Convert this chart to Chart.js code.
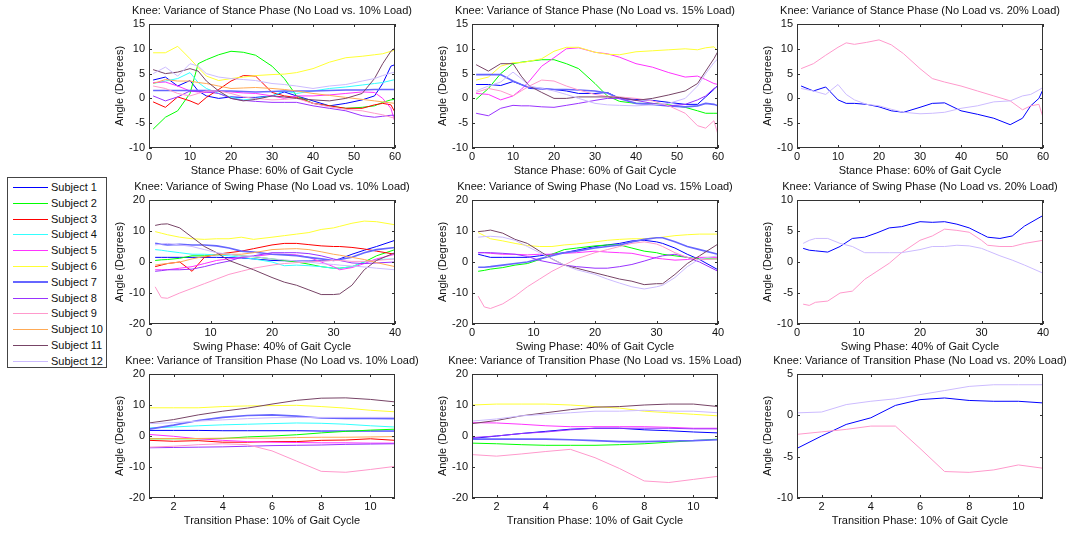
<!DOCTYPE html>
<html lang="en">
<head>
<meta charset="UTF-8">
<title>Knee: Variance of Gait Phases</title>
<script src="https://cdn.jsdelivr.net/npm/chart.js"></script>
<style>
    body { margin: 0; background: #fff; width: 1066px; height: 535px; position: relative; overflow: hidden;
           font-family: "Liberation Sans", Arial, sans-serif; }
    canvas { position: absolute; }
    #legend { position: absolute; left: 7px; top: 177px; width: 100px; height: 191px; border: 1px solid #444;
              background: #fff; box-sizing: border-box; }
    .sw { position: absolute; left: 5px; width: 35px; height: 1px; }
    .lab { position: absolute; left: 43px; font-size: 11px; line-height: 13px; color: #111; white-space: nowrap; }
</style>
</head>
<body>
<div id="legend"></div>
<script>
// subjects and colours
const subjects = ['Subject 1','Subject 2','Subject 3','Subject 4','Subject 5','Subject 6',
                  'Subject 7','Subject 8','Subject 9','Subject 10','Subject 11','Subject 12'];
const colors = ['#0000ff','#00ff00','#ff0000','#33ffff','#ff33ff','#ffff33',
                '#6666ff','#9933ff','#ff99cc','#ffaa55','#774466','#ccbbff'];
const widths = [1,1,1,1,1,1,1.6,1,1,1,1,1];

// x positions (% of gait phase)
const stanceX = [1,4,7,10,12,14,17,20,23,26,30,33,36,40,44,48,52,55,57,59,60];
const swingX  = [1,2,3,5,7,9,11,13,15,17,20,22,24,26,28,30,31,33,35,37,40];
const transX  = [1,2,3,4,5,6,7,8,9,10,11];

// stance phase, one row per subject (null = not plotted)
const stance10 = [
    [3.7,4.3,2.5,3.6,1.5,0.5,0,0.3,0.2,0.2,0.5,1.3,0.5,-0.5,-1.5,-1,-0.3,0.5,3,6.5,6.8],
    [-6.2,-3.8,-2.5,1,7,7.8,8.8,9.5,9.3,8.7,6.5,4,0.5,-1,-1.5,-2,-1.8,-1.5,-0.8,-0.3,-0.2],
    [-0.7,-1.8,0.3,-0.5,-1.2,0.2,1.8,3.5,4.6,4.5,1.2,0.5,0.2,-1,-1.5,-2,-2,-1.3,-1,-1.3,-2.8],
    [3,3.5,4,5.2,3.2,2,1,0.2,-0.3,0,0.5,1.5,1,1.5,2,2.3,2.7,3,3.2,3.6,3.8],
    [3.2,3.3,2.5,1.5,1.3,1.2,1.5,1.3,1.1,1,0.5,0,0.5,0.5,0.7,1,1.3,1.2,0,-2,-4.8],
    [9.2,9.2,10.5,8,6.2,4.5,3.6,4,4.3,4.6,4.8,4.9,5.2,6,7.3,8.2,8.5,8.8,9,9.5,9.7],
    [1.6,1.6,1.6,1.6,1.6,1.6,1.5,1.5,1.4,1.3,1.4,1.5,1.5,1.5,1.6,1.7,1.7,1.8,1.8,1.8,1.8],
    [0.5,-0.5,0.3,1.5,1.4,1.3,1,0,-0.4,-0.6,-0.8,-0.8,-0.8,-1.5,-2,-2.5,-3.5,-3.8,-3.6,-3.4,-3.4],
    [2.5,2,1,0.5,1,1.5,1.5,1,0.3,0,-0.3,-0.2,0,-1,-1.7,-2.2,-2.5,-3,-3.3,-3.8,-4],
    [3,3.8,3.5,3.5,3.2,3,2.5,2,2.1,2.2,2,1.8,1.5,1,0.6,0.2,-0.2,-0.5,-0.7,-0.9,-1],
    [5.8,5,5.3,6,5.5,3.5,1.5,0,-0.5,-0.2,0.5,0.3,0,-0.3,-0.5,0,1,4,7,9.5,10.2],
    [5,6.3,4.5,7,6.5,5,4.3,4,3.8,3.6,3,2.8,2.5,2,2.5,2.8,3.5,4,4.6,5.1,5.3]
];
const stance15 = [
    [2.8,2.8,2.6,3.4,2.8,2,1.9,1.8,1.5,1,1,1.2,0,-0.2,-0.4,-0.8,-1.2,-1.2,0.3,1.8,2.7],
    [-0.2,2,5,7,7.3,7.5,7.8,7.8,7,6,3,0.5,-0.6,-1,-1,-1.3,-1.8,-2.5,-3,-3,-3],
    null,
    null,
    [1,0.8,-0.3,0.5,1.8,3.5,6.5,8.2,10,10.2,9.3,9,8.3,7,6.3,5.2,4.3,4.5,3.8,3,2.8],
    [3.7,4.3,6.5,7.2,7.2,7.5,8,9.5,10.3,10.3,9.3,8.9,8.8,9.4,9.6,9.8,10,9.8,10.2,10.4,9.6],
    [4.8,4.8,4.8,3.5,2.8,2.2,2,1.8,1.8,1.7,1.5,1.1,0,-1,-1.2,-1.5,-1.7,-1.5,-1,-1.2,-1.5],
    [-3,-3.5,-2,-1.4,-1.5,-1.5,-1.7,-1.8,-1.4,-1,-0.4,0,0,-0.4,-1,-1.5,-1.2,-0.3,0.5,2,2.5],
    [1.2,2,1.5,0.5,1.5,2.5,3.7,3.5,2.5,1.7,0.8,0.4,0.3,0,-0.5,-1.5,-3,-5.5,-6,-4.5,-7.3],
    null,
    [6.8,5.5,7,7,4.5,2.5,1.2,0,0,0.3,0.3,0.3,0.2,-0.4,0,0.7,1.5,3,5.5,8,9.5],
    [1.5,2.5,3.3,5.3,4,2.5,2,1.5,0.8,0,-1,-1.3,-1.4,-1.5,-1.3,-1,0,2.5,5,7.2,8]
];
const stance20 = [
    [2.5,1.5,2.3,-0.3,-1,-1,-1.2,-1.7,-2.5,-2.8,-1.8,-1,-0.9,-2.5,-3.2,-4,-5.3,-4,-1.5,0,1.8],
    null, null, null, null, null, null, null,
    [6,7,8.7,10.3,11.2,10.9,11.3,11.8,10.8,9,6,4,3.3,2.5,1.5,0.5,-0.5,-2.3,-1.5,-1.2,-3.8],
    null, null,
    [2,1.5,0.8,2.8,0.8,-0.3,-1.2,-1.5,-2.2,-2.8,-3.1,-3,-2.8,-2,-1.5,-0.7,-0.5,0.5,0.8,1.7,2.2]
];

// swing phase
const swing10 = [
    [1.5,1.5,1.5,1.5,1.5,1.5,1.5,1.4,1.3,1,0.5,0.4,0.3,0.3,0.4,0.5,1,2.5,3.8,5,7],
    [0.5,0.7,0.8,1.2,2,2,2.3,2.5,2,1.7,1,0.5,0,-0.7,-1.5,-2,-2,-1.5,0,2,4],
    [-1.5,-1,-0.5,0,-3,1.5,2.5,3,3.5,4.3,5.5,6,6,5.6,5.2,5,5,4.7,4.2,3.5,2.5],
    [4,3.8,3.5,3,2.5,2.5,2.3,2,1.5,1,0,-1.2,-1,-1.2,-1.5,-2,-2,-1.5,0,0.8,1],
    [-2.5,-2.5,-2.5,-2,-1.5,-0.5,0.5,1,1.5,1.8,2.5,2.5,2.3,1.5,0,-1.5,-2.5,-1.8,-0.5,1,2.5],
    [9.8,9.3,8.8,8,7.5,7.3,7.5,7.5,8,7.3,8,8.5,9,9.5,10.5,11,11.5,12.5,13.2,13,12],
    [6,5.7,5.5,5.7,5.5,5.5,5.2,4.5,3.5,3.2,2.5,2.3,2,1.5,1,0.5,0.8,1.5,3,4,4.7],
    [-3,-2.8,-2.5,-2.5,-2.3,-1.5,-0.5,0.3,1.5,2,3,3,3,2.7,2,1,0.5,-0.3,-0.5,-0.3,0],
    [-8,-11.5,-11.7,-10,-8.5,-7,-5.5,-4,-3,-2,-1,-0.5,-0.2,0,0.3,0.5,0.5,0.2,0.2,0.5,1],
    [-1,-0.7,-0.5,0,1,1.8,2.3,2.5,2.5,3,4,4.2,4.3,4,3.3,2.5,2.2,1.5,0.8,-0.2,-1.5],
    [11.8,12.2,12.3,11,8,5,3,0.5,-1,-2.5,-5,-6.5,-7.5,-9,-10.5,-10.5,-10.3,-7.5,-2.5,0.5,3],
    [5.5,5.8,6,5.5,5,4,3,2.5,2,1.8,1,0.7,0.3,0,-0.5,-0.8,-1,-1.3,-1.6,-2,-2.5]
];
const swing15 = [
    [2.5,2,1.5,1.5,1.5,1.5,2,2.5,3,3.8,5,5.5,6,6.8,7,6.5,6,4.5,2.5,0.8,-2.5],
    [-3,-2.7,-2.3,-1.8,-1,-0.5,0.8,2.5,4,4.5,5.2,5.5,5.5,4.5,3.5,3,2.5,2,1.5,1,1],
    null,
    null,
    [3,3,2.8,2.5,2.5,2.3,2.5,2.5,2.8,3,3.5,3.2,3,2.8,2,1.2,1,0.6,0.8,1.5,1.5],
    [9.5,8.5,7.5,6.8,6,5.3,5,5,5.5,5.8,6.5,7,7.3,7.5,7.5,7.8,8,8.5,8.8,9,9],
    [-1.7,-1.7,-1.5,-1,-0.5,0,1,2,3,3.5,4.5,5,5.5,6.5,7.3,7.8,7.8,6.5,5,4,2.5],
    [3,3,3,2.8,2.5,1.8,0.5,-0.3,-1,-1.5,-2,-2,-1.5,-0.8,0.3,1.5,2,2.5,1.5,0,-3],
    [-11,-14.5,-15,-13.5,-11,-8,-5.5,-3,-1,1,3,4,5,6,6.5,5.8,5,3,1.5,0.7,1],
    null,
    [9.8,10,10.3,9.3,7.3,6,3.5,1,-1,-2,-3.5,-4.5,-5.5,-6.2,-7.3,-7,-7,-4,-0.5,2,5.8],
    [8,8.2,8.3,8,7,5,3,1,-1,-2.5,-4,-5.5,-6.8,-8,-8.7,-8,-7.5,-5,-1.5,1,2]
];
const swing20 = [
    [2.2,1.9,1.8,1.6,2.5,3.8,4,4.7,5.5,5.7,6.5,6.4,6.5,6.1,5.5,4.5,4,3.8,4.2,5.8,7.5],
    null, null, null, null, null, null, null,
    [-6.8,-7,-6.5,-6.3,-5,-4.7,-2.8,-1.5,-0.2,1.5,3.5,4.2,5.3,5.1,4.8,3.5,2.7,2.5,2.5,3,3.5],
    null, null,
    [3,3.5,3.8,3.8,3,2.5,1.5,1.5,1.5,1.5,2,2.5,2.5,2.7,2.6,2.2,1.8,1,0.3,-0.5,-1.8]
];

// transition phase
const trans10 = [
    [1.8,1.8,1.8,1.7,1.7,1.7,1.7,1.6,1.6,1.6,1.6],
    [-0.9,-0.9,-0.9,-0.8,-0.3,0,0.4,1,1.5,1.9,2.2],
    [-1.4,-1.7,-1.5,-2,-2,-1.8,-1.8,-1.4,-1.3,-0.9,-1.4],
    [2.6,2.9,3.3,3.6,3.8,4,4.2,4.1,3.8,3.3,2.9],
    [0.5,-0.1,-0.9,-1.4,-1.8,-2,-2.1,-2.2,-2.2,-2.3,-2.3],
    [9.1,9.1,9.1,9.5,9.7,9.8,9.9,9.5,9,8.3,7.8],
    [2.2,3.5,5,6,6.6,6.8,6.4,5.8,5.7,5.7,5.6],
    [-3.8,-3.7,-3.6,-3.5,-3.3,-3.1,-3,-2.9,-2.7,-2.6,-2.5],
    [-3.6,-3.3,-2.8,-2.5,-2.8,-4.8,-8.1,-11.4,-11.7,-10.8,-9.8],
    [-0.9,-0.8,-0.8,-0.7,-0.7,-0.7,-0.5,-0.4,-0.4,-0.3,-0.2],
    [4.2,5.3,6.8,8,9,10.3,11.5,12.2,12.3,11.8,11],
    [4,4.3,4.8,5.2,5.6,5.9,6,6,6,6,6]
];
const trans15 = [
    [-0.8,0,0.8,1.5,2.2,2.5,2.5,2,1.7,1.3,1],
    [-2.3,-2.5,-2.8,-3,-3,-3,-2.8,-2.5,-2,-1.5,-1],
    null,
    null,
    [4.3,4.2,3.8,3.3,3,3,3,3,2.8,2.5,2.5],
    [10,10.3,10.3,10.3,10,9.5,9,8,7.5,7,6.5],
    [-1,-1,-1,-1,-1.2,-1.5,-1.8,-1.8,-1.6,-1.5,-1.2],
    [-0.5,0,0.8,1.3,2,2.5,2.5,2.5,2.5,2.3,2.3],
    [-6,-6.5,-5.8,-5,-4.3,-7,-10.5,-14.5,-15,-14,-13],
    null,
    [4,5,6.5,7.5,8.5,9.3,9.5,10,10.3,10.3,9.5],
    [4.8,5.5,6.5,7,7.5,8,8,8.3,8,8,7.5]
];
const trans20 = [
    [-4,-2.5,-1.1,-0.3,1.2,1.9,2.1,1.8,1.7,1.7,1.5],
    null, null, null, null, null, null, null,
    [-2.3,-2,-1.7,-1.3,-1.3,-4,-6.8,-6.9,-6.6,-6,-6.4],
    null, null,
    [0.3,0.4,1.3,1.7,2,2.5,3,3.5,3.7,3.7,3.7]
];

// tick values
const stanceTicks = [0,10,20,30,40,50,60];
const swingTicks  = [0,10,20,30,40];
const transTicks  = [2,4,6,8,10];

const FONT = '"Liberation Sans", Arial, sans-serif';
const boxLefts = [149, 472, 797];
const boxTops = [24, 200, 374];
const BOX_W = 246, BOX_H = 124, SIDE = 55, TOP = 19, BOTTOM = 28;

const panels = [
    {r:0, c:0, xs:stanceX, data:stance10, xmin:0, xmax:60, xt:stanceTicks, ymin:-10, ymax:15, step:5,
     title:'Knee: Variance of Stance Phase (No Load vs. 10% Load)', xlabel:'Stance Phase: 60% of Gait Cycle'},
    {r:0, c:1, xs:stanceX, data:stance15, xmin:0, xmax:60, xt:stanceTicks, ymin:-10, ymax:15, step:5,
     title:'Knee: Variance of Stance Phase (No Load vs. 15% Load)', xlabel:'Stance Phase: 60% of Gait Cycle'},
    {r:0, c:2, xs:stanceX, data:stance20, xmin:0, xmax:60, xt:stanceTicks, ymin:-10, ymax:15, step:5,
     title:'Knee: Variance of Stance Phase (No Load vs. 20% Load)', xlabel:'Stance Phase: 60% of Gait Cycle'},
    {r:1, c:0, xs:swingX, data:swing10, xmin:0, xmax:40, xt:swingTicks, ymin:-20, ymax:20, step:10,
     title:'Knee: Variance of Swing Phase (No Load vs. 10% Load)', xlabel:'Swing Phase: 40% of Gait Cycle'},
    {r:1, c:1, xs:swingX, data:swing15, xmin:0, xmax:40, xt:swingTicks, ymin:-20, ymax:20, step:10,
     title:'Knee: Variance of Swing Phase (No Load vs. 15% Load)', xlabel:'Swing Phase: 40% of Gait Cycle'},
    {r:1, c:2, xs:swingX, data:swing20, xmin:0, xmax:40, xt:swingTicks, ymin:-10, ymax:10, step:5,
     title:'Knee: Variance of Swing Phase (No Load vs. 20% Load)', xlabel:'Swing Phase: 40% of Gait Cycle'},
    {r:2, c:0, xs:transX, data:trans10, xmin:1, xmax:11, xt:transTicks, ymin:-20, ymax:20, step:10,
     title:'Knee: Variance of Transition Phase (No Load vs. 10% Load)', xlabel:'Transition Phase: 10% of Gait Cycle'},
    {r:2, c:1, xs:transX, data:trans15, xmin:1, xmax:11, xt:transTicks, ymin:-20, ymax:20, step:10,
     title:'Knee: Variance of Transition Phase (No Load vs. 15% Load)', xlabel:'Transition Phase: 10% of Gait Cycle'},
    {r:2, c:2, xs:transX, data:trans20, xmin:1, xmax:11, xt:transTicks, ymin:-10, ymax:5, step:5,
     title:'Knee: Variance of Transition Phase (No Load vs. 20% Load)', xlabel:'Transition Phase: 10% of Gait Cycle'}
];

// box around the plot with inward ticks on all four sides
const framePlugin = {
    id: 'frame',
    afterDraw(chart) {
        const {ctx, chartArea: a, scales: {x, y}} = chart;
        ctx.save();
        ctx.strokeStyle = '#333';
        ctx.lineWidth = 1;
        ctx.strokeRect(Math.round(a.left) + 0.5, Math.round(a.top) + 0.5,
                       Math.round(a.width) - 1, Math.round(a.height) - 1);
        ctx.beginPath();
        x.ticks.forEach(t => {
            const px = Math.round(x.getPixelForValue(t.value)) + 0.5;
            ctx.moveTo(px, a.bottom); ctx.lineTo(px, a.bottom - 3);
            ctx.moveTo(px, a.top); ctx.lineTo(px, a.top + 3);
        });
        y.ticks.forEach(t => {
            const py = Math.round(y.getPixelForValue(t.value)) + 0.5;
            ctx.moveTo(a.left, py); ctx.lineTo(a.left + 3, py);
            ctx.moveTo(a.right, py); ctx.lineTo(a.right - 3, py);
        });
        ctx.stroke();
        ctx.restore();
    }
};

panels.forEach(p => {
    const cv = document.createElement('canvas');
    cv.width = BOX_W + 2 * SIDE;
    cv.height = TOP + BOX_H + BOTTOM;
    cv.style.left = (boxLefts[p.c] - SIDE) + 'px';
    cv.style.top = (boxTops[p.r] - TOP) + 'px';
    document.body.appendChild(cv);

    const datasets = [];
    p.data.forEach((ys, i) => {
        if (!ys) return;
        datasets.push({
            label: subjects[i],
            data: ys.map((v, k) => ({x: p.xs[k], y: v})),
            borderColor: colors[i],
            borderWidth: widths[i],
            pointRadius: 0,
            tension: 0,
            fill: false,
            order: 12 - i
        });
    });

    new Chart(cv.getContext('2d'), {
        type: 'line',
        data: {datasets},
        plugins: [framePlugin],
        options: {
            responsive: false,
            animation: false,
            events: [],
            layout: {padding: 0},
            plugins: {
                legend: {display: false},
                tooltip: {enabled: false},
                title: {display: true, text: p.title, color: '#111',
                        font: {family: FONT, size: 11, weight: 'normal', lineHeight: 1},
                        padding: {top: 0, bottom: 8}}
            },
            scales: {
                x: {
                    type: 'linear', min: p.xmin, max: p.xmax,
                    afterBuildTicks: s => { s.ticks = p.xt.map(v => ({value: v})); },
                    afterFit: s => { s.height = BOTTOM; },
                    grid: {display: false, drawTicks: false},
                    border: {display: false},
                    ticks: {padding: 2, color: '#111', font: {family: FONT, size: 11}, maxRotation: 0, autoSkip: false},
                    title: {display: true, text: p.xlabel, color: '#111',
                            font: {family: FONT, size: 11, lineHeight: 1}, padding: {top: 0, bottom: 0}}
                },
                y: {
                    type: 'linear', position: 'left', min: p.ymin, max: p.ymax,
                    afterFit: s => { s.width = SIDE; },
                    grid: {display: false, drawTicks: false},
                    border: {display: false},
                    ticks: {stepSize: p.step, padding: 4, color: '#111', font: {family: FONT, size: 11}},
                    title: {display: true, text: 'Angle (Degrees)', color: '#111',
                            font: {family: FONT, size: 11, lineHeight: 1}, padding: {top: 20, bottom: 0}}
                },
                yRight: {
                    type: 'linear', position: 'right', min: p.ymin, max: p.ymax,
                    afterFit: s => { s.width = SIDE; },
                    grid: {display: false, drawTicks: false},
                    border: {display: false},
                    ticks: {display: false}
                }
            }
        }
    });
});

// legend box: coloured swatch + name per subject
const legend = document.getElementById('legend');
subjects.forEach((name, i) => {
    const cy = Math.round(9 + i * 15.8);
    const sw = document.createElement('div');
    sw.className = 'sw';
    sw.style.top = (cy - (i === 6 ? 1 : 0)) + 'px';
    sw.style.height = (i === 6 ? 2 : 1) + 'px';
    sw.style.background = colors[i];
    legend.appendChild(sw);
    const lab = document.createElement('div');
    lab.className = 'lab';
    lab.style.top = (cy - 6) + 'px';
    lab.textContent = name;
    legend.appendChild(lab);
});
</script>
</body>
</html>
